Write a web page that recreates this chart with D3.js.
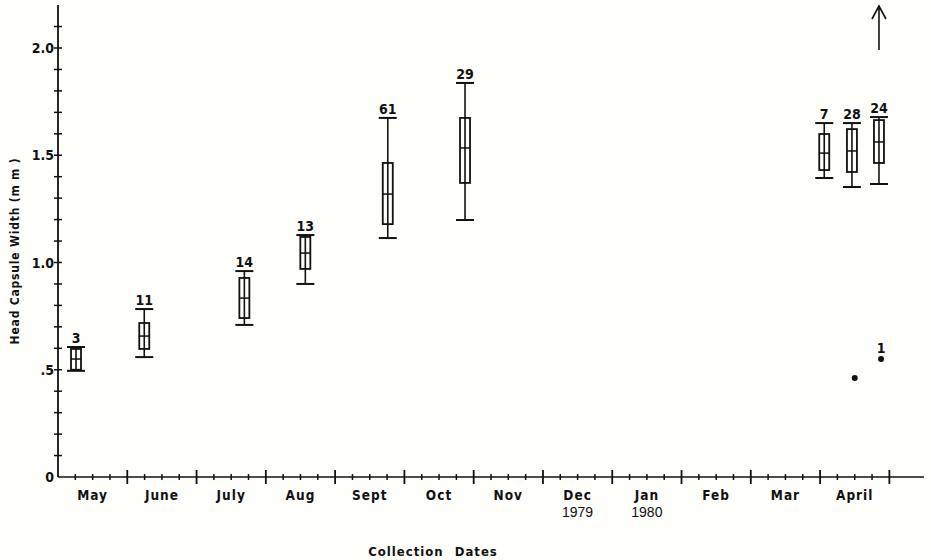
<!DOCTYPE html>
<html>
<head>
<meta charset="utf-8">
<script src="https://cdn.jsdelivr.net/npm/d3@7"></script>
<style>
  body { margin: 0; background: #fefefb; }
  svg { display: block; }
  text { font-family: "Liberation Sans Narrow", "DejaVu Sans Condensed", "Roboto Condensed", sans-serif; font-weight: bold; fill: #111; }
  .year { font-family: "Liberation Sans", "DejaVu Sans", sans-serif; font-weight: normal; }
</style>
</head>
<body>
<script>
// month labels along the collection axis (May 1979 .. April 1980)
const months = ["May", "June", "July", "Aug", "Sept", "Oct", "Nov", "Dec", "Jan", "Feb", "Mar", "April"];
const years = ["", "", "", "", "", "", "", "1979", "1980", "", "", ""];
const yTicks = [0, 0.5, 1.0, 1.5, 2.0];
const yTickLabels = ["0", ".5", "1.0", "1.5", "2.0"];

// collections: position in months from 1 May, sample size, box stats (mm)
const sampleAt = [0.26, 1.245, 2.69, 3.57, 4.76, 5.875, 11.06, 11.46, 11.85];
const counts = [3, 11, 14, 13, 61, 29, 7, 28, 24];
const whiskerHigh = [0.606, 0.783, 0.960, 1.128, 1.674, 1.837, 1.650, 1.650, 1.678];
const q3 = [0.597, 0.718, 0.928, 1.119, 1.464, 1.674, 1.599, 1.622, 1.664];
const median = [0.55, 0.657, 0.834, 1.044, 1.319, 1.534, 1.510, 1.520, 1.562];
const q1 = [0.50, 0.597, 0.741, 0.970, 1.179, 1.371, 1.431, 1.422, 1.464];
const whiskerLow = [0.495, 0.559, 0.709, 0.900, 1.114, 1.198, 1.394, 1.352, 1.366];

// single larvae plotted as dots
const dotAt = [11.5, 11.88];
const dotValue = [0.462, 0.55];
const dotLabel = ["", "1"];
const arrowAt = 11.85;

const width = 931, height = 560;
const svg = d3.select("body").append("svg")
    .attr("width", width)
    .attr("height", height);

let x = d3.scaleLinear().domain([0, 12.5]).range([58, 924]);
let y = d3.scaleLinear().domain([0, 2.2]).range([477, 5.1]);

const ink = "#111";

// y axis
svg.append("line")
    .attr("x1", x(0)).attr("x2", x(0))
    .attr("y1", y(0)).attr("y2", y(2.2))
    .attr("stroke", ink).attr("stroke-width", 1.8);

svg.selectAll(".yminor")
    .data(d3.range(1, 22))
    .enter().append("line")
    .attr("x1", x(0) - 4).attr("x2", x(0) + 4)
    .attr("y1", d => y(d / 10)).attr("y2", d => y(d / 10))
    .attr("stroke", ink).attr("stroke-width", 1.5);

svg.selectAll(".ylabel")
    .data(yTicks)
    .enter().append("text")
    .attr("x", x(0) - 4)
    .attr("y", d => y(d) + 5)
    .attr("text-anchor", "end")
    .attr("font-size", 14)
    .text((d, i) => yTickLabels[i]);

// x axis
svg.append("line")
    .attr("x1", x(0)).attr("x2", x(12.5))
    .attr("y1", y(0)).attr("y2", y(0))
    .attr("stroke", ink).attr("stroke-width", 1.5);

svg.selectAll(".xmajor")
    .data(d3.range(1, 13))
    .enter().append("line")
    .attr("x1", d => x(d)).attr("x2", d => x(d))
    .attr("y1", y(0) - 7).attr("y2", y(0) + 7)
    .attr("stroke", ink).attr("stroke-width", 1.8);

svg.selectAll(".xminor")
    .data(d3.range(0, 12).flatMap(m => [m + 0.25, m + 0.5, m + 0.75]))
    .enter().append("line")
    .attr("x1", d => x(d)).attr("x2", d => x(d))
    .attr("y1", y(0) - 3).attr("y2", y(0) + 3)
    .attr("stroke", ink).attr("stroke-width", 1.5);

svg.selectAll(".month")
    .data(months)
    .enter().append("text")
    .attr("x", (d, i) => x(i + 0.5))
    .attr("y", 500)
    .attr("text-anchor", "middle")
    .attr("font-size", 13.5)
    .attr("letter-spacing", 1)
    .text(d => d);

svg.selectAll(".year")
    .data(years)
    .enter().append("text")
    .attr("class", "year")
    .attr("x", (d, i) => x(i + 0.5))
    .attr("y", 517)
    .attr("text-anchor", "middle")
    .attr("font-size", 14)
    .text(d => d);

// axis titles
svg.append("text")
    .attr("x", 433).attr("y", 556)
    .attr("text-anchor", "middle")
    .attr("font-size", 13)
    .attr("letter-spacing", 1)
    .attr("word-spacing", 6)
    .text("Collection Dates");

svg.append("text")
    .attr("transform", "translate(19,251) rotate(-90)")
    .attr("text-anchor", "middle")
    .attr("font-size", 12)
    .attr("letter-spacing", 0.8)
    .text("Head Capsule Width (m m )");

// box plots
const boxW = 10, capW = 18;
const boxes = svg.selectAll(".box")
    .data(d3.range(sampleAt.length))
    .enter().append("g")
    .attr("class", "box")
    .attr("transform", i => "translate(" + x(sampleAt[i]) + ",0)");

boxes.append("line")
    .attr("y1", i => y(whiskerLow[i])).attr("y2", i => y(whiskerHigh[i]))
    .attr("stroke", ink).attr("stroke-width", 1.6);

boxes.append("rect")
    .attr("x", -boxW / 2).attr("width", boxW)
    .attr("y", i => y(q3[i]))
    .attr("height", i => y(q1[i]) - y(q3[i]))
    .attr("fill", "none")
    .attr("stroke", ink).attr("stroke-width", 1.8);

boxes.append("line")
    .attr("x1", -boxW / 2).attr("x2", boxW / 2)
    .attr("y1", i => y(median[i])).attr("y2", i => y(median[i]))
    .attr("stroke", ink).attr("stroke-width", 1.5);

boxes.append("line")
    .attr("x1", -capW / 2).attr("x2", capW / 2)
    .attr("y1", i => y(whiskerHigh[i])).attr("y2", i => y(whiskerHigh[i]))
    .attr("stroke", ink).attr("stroke-width", 2);

boxes.append("line")
    .attr("x1", -capW / 2).attr("x2", capW / 2)
    .attr("y1", i => y(whiskerLow[i])).attr("y2", i => y(whiskerLow[i]))
    .attr("stroke", ink).attr("stroke-width", 2);

boxes.append("text")
    .attr("y", i => y(whiskerHigh[i]) - 4)
    .attr("text-anchor", "middle")
    .attr("font-size", 14)
    .text(i => counts[i]);

// single specimens
svg.selectAll(".dot")
    .data(dotAt)
    .enter().append("circle")
    .attr("cx", d => x(d))
    .attr("cy", (d, i) => y(dotValue[i]))
    .attr("r", 3)
    .attr("fill", ink);

svg.selectAll(".dotlabel")
    .data(dotAt)
    .enter().append("text")
    .attr("x", d => x(d))
    .attr("y", (d, i) => y(dotValue[i]) - 6)
    .attr("text-anchor", "middle")
    .attr("font-size", 14)
    .text((d, i) => dotLabel[i]);

// arrow at top right
const ax = x(arrowAt);
svg.append("path")
    .attr("d", `M${ax},50 L${ax},6 M${ax - 7},19 L${ax},6 L${ax + 7},19`)
    .attr("fill", "none")
    .attr("stroke", ink).attr("stroke-width", 1.6);
</script>
</body>
</html>
